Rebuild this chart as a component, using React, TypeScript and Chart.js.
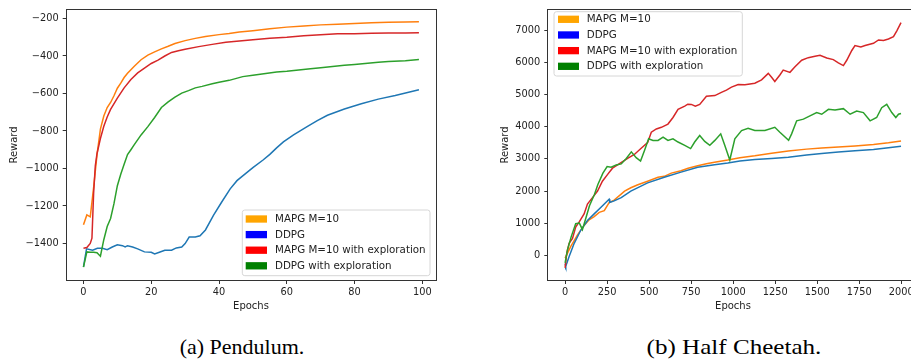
import React, { useEffect, useRef } from 'react';
import { Chart, registerables } from 'chart.js';

Chart.register(...registerables);

// ---------- shared ----------
const seriesLabels = ['MAPG M=10', 'DDPG', 'MAPG M=10 with exploration', 'DDPG with exploration'];
const lineColors = ['#ff7f0e', '#1f77b4', '#d62728', '#2ca02c'];
const patchColors = ['#ffa500', '#0000ff', '#ff0000', '#008000'];

// ---------- (a) Pendulum ----------
const pendXTicks = [0, 20, 40, 60, 80, 100];
const pendYTicks = [-1400, -1200, -1000, -800, -600, -400, -200];

const pendMapgEpochs = [0, 1, 2, 3, 4, 5, 6, 7, 8, 9, 10, 11, 12, 13, 14, 15, 17, 19, 21, 23, 25, 27, 30, 33, 36, 40, 43, 46, 50, 55, 60, 65, 70, 75, 80, 85, 90, 95, 99];
const pendMapgReward = [-1300, -1248, -1258, -1100, -926, -790, -720, -675, -648, -612, -572, -545, -515, -492, -473, -455, -420, -395, -378, -362, -348, -333, -318, -306, -296, -286, -280, -272, -265, -255, -246, -240, -234, -230, -226, -222, -220, -218, -217];

const pendDdpgEpochs = [0, 0.9, 2.7, 4.1, 5.6, 7, 8.5, 10, 11.5, 12.3, 13, 14.5, 16, 18, 20, 21, 22.4, 24, 26, 27.4, 29, 30, 31.2, 33, 34.4, 36, 38.4, 40.8, 43.3, 45.3, 48, 50, 53, 55, 57, 59, 62, 66, 69, 72, 77, 82, 87, 92, 99];
const pendDdpgReward = [-1525, -1429, -1436, -1426, -1426, -1433, -1419, -1407, -1412, -1419, -1412, -1419, -1429, -1445, -1447, -1456, -1447, -1436, -1436, -1424, -1419, -1401, -1366, -1366, -1359, -1328, -1249, -1179, -1109, -1065, -1025, -996, -955, -925, -890, -858, -821, -777, -745, -716, -683, -655, -630, -611, -580];

const pendMapgExpEpochs = [0, 1, 2, 2.5, 3, 3.5, 4, 4.6, 5, 6, 7, 8, 10, 12, 14, 16, 18, 20, 22, 24, 26, 28, 30, 34, 38, 42, 46, 50, 55, 60, 65, 70, 75, 80, 85, 90, 95, 99];
const pendMapgExpReward = [-1426, -1422, -1400, -1372, -1130, -985, -920, -873, -840, -775, -725, -685, -625, -570, -525, -490, -465, -440, -422, -400, -381, -372, -364, -350, -338, -327, -320, -313, -305, -300, -292, -287, -282, -281, -279, -277, -277, -276];

const pendDdpgExpEpochs = [0, 1, 2, 3, 4, 4.5, 5, 6, 7, 8, 9, 10, 11, 12, 13, 14, 15, 17, 19, 21, 23, 25, 27, 29, 31, 33, 35, 38, 40, 43, 47, 50, 57, 60, 67, 70, 77, 80, 87, 90, 95, 99];
const pendDdpgExpReward = [-1526, -1445, -1447, -1447, -1450, -1459, -1468, -1380, -1310, -1267, -1188, -1092, -1031, -978, -926, -900, -873, -821, -777, -728, -675, -645, -620, -598, -585, -570, -562, -548, -540, -530, -510, -503, -485, -481, -468, -463, -450, -445, -433, -430, -425, -419];

// ---------- (b) Half Cheetah ----------
const hcXTicks = [0, 250, 500, 750, 1000, 1250, 1500, 1750, 2000];
const hcYTicks = [0, 1000, 2000, 3000, 4000, 5000, 6000, 7000];

const hcMapgEpochs = [0, 33, 73, 113, 143, 173, 203, 233, 262, 292, 354, 391, 433, 491, 553, 590, 632, 690, 732, 789, 841, 889, 968, 1040, 1129, 1229, 1328, 1437, 1527, 1626, 1725, 1835, 1924, 1999];
const hcMapgReward = [-80, 274, 631, 936, 1110, 1210, 1341, 1393, 1646, 1720, 2002, 2104, 2200, 2308, 2428, 2460, 2560, 2634, 2713, 2790, 2850, 2900, 2965, 3040, 3100, 3180, 3250, 3305, 3340, 3370, 3400, 3445, 3500, 3558];

const hcDdpgEpochs = [0, 4, 24, 54, 93, 133, 173, 212, 262, 266, 292, 334, 391, 491, 590, 690, 789, 889, 968, 1040, 1129, 1229, 1328, 1437, 1527, 1626, 1725, 1835, 1924, 1999];
const hcDdpgReward = [-250, -335, -30, 378, 784, 1088, 1293, 1494, 1750, 1646, 1698, 1798, 2003, 2256, 2430, 2591, 2740, 2820, 2875, 2939, 2980, 3010, 3050, 3122, 3170, 3215, 3255, 3293, 3350, 3396];

const hcMapgExpEpochs = [0, 10, 24, 44, 63, 83, 113, 133, 163, 193, 222, 252, 282, 312, 342, 372, 412, 451, 491, 513, 543, 573, 612, 642, 672, 712, 730, 751, 775, 801, 841, 891, 930, 960, 990, 1030, 1070, 1100, 1129, 1169, 1209, 1230, 1248, 1278, 1298, 1338, 1368, 1408, 1447, 1487, 1517, 1557, 1596, 1626, 1656, 1676, 1706, 1725, 1760, 1785, 1835, 1865, 1895, 1924, 1954, 1974, 1999];
const hcMapgExpReward = [-385, 73, 378, 530, 884, 1037, 1293, 1598, 1799, 2003, 2308, 2512, 2713, 2817, 2918, 3018, 3140, 3323, 3506, 3830, 3932, 3983, 4084, 4287, 4541, 4643, 4700, 4694, 4640, 4694, 4948, 4968, 5070, 5140, 5232, 5313, 5303, 5330, 5354, 5456, 5659, 5530, 5405, 5608, 5760, 5690, 5862, 6066, 6147, 6187, 6218, 6137, 6086, 5984, 5900, 6066, 6370, 6523, 6480, 6523, 6594, 6696, 6680, 6726, 6797, 6980, 7234];

const hcDdpgExpEpochs = [0, 14, 36, 63, 85, 103, 125, 145, 175, 195, 225, 250, 274, 304, 334, 364, 394, 423, 449, 473, 497, 523, 553, 583, 612, 642, 672, 712, 747, 771, 801, 831, 861, 891, 926, 950, 980, 1010, 1050, 1089, 1129, 1189, 1248, 1278, 1330, 1348, 1378, 1418, 1457, 1497, 1527, 1567, 1606, 1656, 1696, 1735, 1775, 1815, 1854, 1884, 1914, 1944, 1968, 1984, 1999];
const hcDdpgExpReward = [-232, 174, 579, 988, 1006, 805, 1189, 1544, 1900, 2205, 2560, 2765, 2743, 2814, 2845, 3017, 3221, 3038, 2936, 3271, 3627, 3576, 3576, 3678, 3576, 3627, 3525, 3424, 3322, 3525, 3729, 3545, 3424, 3576, 3779, 3424, 2967, 3627, 3881, 3952, 3881, 3881, 3983, 3830, 3580, 3779, 4185, 4236, 4338, 4440, 4389, 4541, 4521, 4562, 4389, 4490, 4440, 4185, 4287, 4592, 4694, 4440, 4287, 4389, 4409];

const TEXT = '#222222';
const SPINE = '#333333';
const FONT = '"DejaVu Sans", sans-serif';

const fmt = (v: number) => (v < 0 ? '\u2212' + Math.abs(v) : String(v));

const decorPlugin = {
  id: 'decor',
  afterDraw(chart: any, _args: any, o: any) {
    const { ctx, chartArea: a } = chart;
    ctx.save();
    // frame (all four spines)
    ctx.strokeStyle = SPINE;
    ctx.lineWidth = 1;
    const l = Math.round(a.left) - 0.5;
    const t = Math.round(a.top) - 0.5;
    const r = Math.round(a.right) + 0.5;
    const b = Math.round(a.bottom) + 0.5;
    ctx.strokeRect(l, t, r - l, b - t);
    // axis titles
    ctx.fillStyle = TEXT;
    ctx.font = `10px ${FONT}`;
    ctx.textAlign = 'center';
    ctx.textBaseline = 'middle';
    ctx.fillText(o.xTitle, o.xTitleX, o.xTitleY);
    ctx.save();
    ctx.translate(o.yTitleX, o.yTitleY);
    ctx.rotate(-Math.PI / 2);
    ctx.fillText(o.yTitle, 0, 0);
    ctx.restore();
    // legend
    const L = o.legend;
    const rad = 2.5;
    ctx.beginPath();
    ctx.moveTo(L.x + rad, L.y);
    ctx.arcTo(L.x + L.w, L.y, L.x + L.w, L.y + L.h, rad);
    ctx.arcTo(L.x + L.w, L.y + L.h, L.x, L.y + L.h, rad);
    ctx.arcTo(L.x, L.y + L.h, L.x, L.y, rad);
    ctx.arcTo(L.x, L.y, L.x + L.w, L.y, rad);
    ctx.closePath();
    ctx.fillStyle = 'rgba(255,255,255,0.8)';
    ctx.fill();
    ctx.strokeStyle = '#d6d6d6';
    ctx.lineWidth = 1;
    ctx.stroke();
    ctx.font = `10.3px ${FONT}`;
    ctx.textAlign = 'left';
    ctx.textBaseline = 'middle';
    seriesLabels.forEach((lab, i) => {
      const cy = L.row0 + i * L.gap;
      ctx.fillStyle = patchColors[i];
      ctx.fillRect(L.px, cy - L.ph / 2, L.pw, L.ph);
      ctx.fillStyle = TEXT;
      ctx.fillText(lab, L.tx, cy + 0.5);
    });
    ctx.restore();
  },
};

type Panel = {
  epochs: number[][];
  rewards: number[][];
  xTicks: number[];
  yTicks: number[];
  xMin: number;
  xMax: number;
  yMin: number;
  yMax: number;
  padTop: number;
  padRight: number;
  yAxisW: number;
  xAxisH: number;
  decor: any;
};

function makeConfig(p: Panel): any {
  return {
    type: 'line',
    data: {
      datasets: p.epochs.map((ep, i) => ({
        label: seriesLabels[i],
        data: ep.map((e, j) => ({ x: e, y: p.rewards[i][j] })),
        borderColor: lineColors[i],
        backgroundColor: lineColors[i],
        borderWidth: 1.5,
        pointRadius: 0,
        fill: false,
        tension: 0,
        order: 3 - i,
      })),
    },
    options: {
      responsive: false,
      animation: false,
      events: [],
      layout: { padding: { top: p.padTop, right: p.padRight, left: 0, bottom: 0 } },
      plugins: {
        legend: { display: false },
        tooltip: { enabled: false },
        decor: p.decor,
      },
      scales: {
        x: {
          type: 'linear',
          min: p.xMin,
          max: p.xMax,
          afterBuildTicks: (s: any) => {
            s.ticks = p.xTicks.map((v) => ({ value: v }));
          },
          afterFit: (s: any) => {
            s.height = p.xAxisH;
          },
          ticks: {
            autoSkip: false,
            maxRotation: 0,
            color: TEXT,
            padding: 3,
            font: { family: FONT, size: 9.8 },
            callback: (v: number) => fmt(v),
          },
          grid: { display: true, drawOnChartArea: false, drawTicks: true, tickLength: 4, color: SPINE, lineWidth: 1 },
          border: { display: false },
        },
        y: {
          type: 'linear',
          min: p.yMin,
          max: p.yMax,
          afterBuildTicks: (s: any) => {
            s.ticks = p.yTicks.map((v) => ({ value: v }));
          },
          afterFit: (s: any) => {
            s.width = p.yAxisW;
          },
          ticks: {
            autoSkip: false,
            color: TEXT,
            padding: 4,
            font: { family: FONT, size: 9.8 },
            callback: (v: number) => fmt(v),
          },
          grid: { display: true, drawOnChartArea: false, drawTicks: true, tickLength: 4, color: SPINE, lineWidth: 1 },
          border: { display: false },
        },
      },
    },
    plugins: [decorPlugin],
  };
}

const pendPanel: Panel = {
  epochs: [pendMapgEpochs, pendDdpgEpochs, pendMapgExpEpochs, pendDdpgExpEpochs],
  rewards: [pendMapgReward, pendDdpgReward, pendMapgExpReward, pendDdpgExpReward],
  xTicks: pendXTicks,
  yTicks: pendYTicks,
  xMin: -4.95,
  xMax: 103.95,
  yMin: -1595,
  yMax: -154,
  padTop: 6,
  padRight: 14.3,
  yAxisW: 66.7,
  xAxisH: 40,
  decor: {
    xTitle: 'Epochs',
    xTitleX: 251,
    xTitleY: 306.7,
    yTitle: 'Reward',
    yTitleX: 14,
    yTitleY: 145,
    legend: { x: 242.3, y: 210, w: 187.7, h: 65.7, row0: 219, gap: 15.6, px: 245.7, pw: 21.3, ph: 7.3, tx: 275 },
  },
};

const hcPanel: Panel = {
  epochs: [hcMapgEpochs, hcDdpgEpochs, hcMapgExpEpochs, hcDdpgExpEpochs],
  rewards: [hcMapgReward, hcDdpgReward, hcMapgExpReward, hcDdpgExpReward],
  xTicks: hcXTicks,
  yTicks: hcYTicks,
  xMin: -100,
  xMax: 2100,
  yMin: -761,
  yMax: 7631,
  padTop: 6,
  padRight: 17,
  yAxisW: 93.3,
  xAxisH: 40,
  decor: {
    xTitle: 'Epochs',
    xTitleX: 278,
    xTitleY: 306.7,
    yTitle: 'Reward',
    yTitleX: 50,
    yTitleY: 145,
    legend: { x: 99, y: 11.7, w: 188.3, h: 64.3, row0: 19.3, gap: 15.67, px: 103, pw: 21, ph: 7.3, tx: 131.7 },
  },
};

function ChartCanvas({ panel, left, width, height }: { panel: Panel; left: number; width: number; height: number }) {
  const ref = useRef<HTMLCanvasElement>(null);
  useEffect(() => {
    const chart = new Chart(ref.current as HTMLCanvasElement, makeConfig(panel));
    return () => chart.destroy();
  }, [panel]);
  return (
    <canvas
      ref={ref}
      width={width}
      height={height}
      style={{ position: 'absolute', left, top: 0, width, height }}
    />
  );
}

const captionStyle: React.CSSProperties = {
  position: 'absolute',
  top: 334,
  fontFamily: '"Liberation Serif", "Times New Roman", serif',
  fontSize: 22,
  lineHeight: '26px',
  color: '#000',
  whiteSpace: 'nowrap',
  transform: 'translateX(-50%)',
};

export default function App() {
  return (
    <div
      style={{
        position: 'fixed',
        left: 0,
        top: 0,
        width: 911,
        height: 360,
        overflow: 'hidden',
        background: '#fff',
      }}
    >
      <ChartCanvas panel={pendPanel} left={0} width={450} height={320} />
      <ChartCanvas panel={hcPanel} left={455} width={480} height={320} />
      <div style={{ ...captionStyle, left: 242 }}>(a) Pendulum.</div>
      <div style={{ ...captionStyle, left: 733.5, transform: 'translateX(-50%) scaleX(1.14)' }}>(b) Half Cheetah.</div>
    </div>
  );
}
